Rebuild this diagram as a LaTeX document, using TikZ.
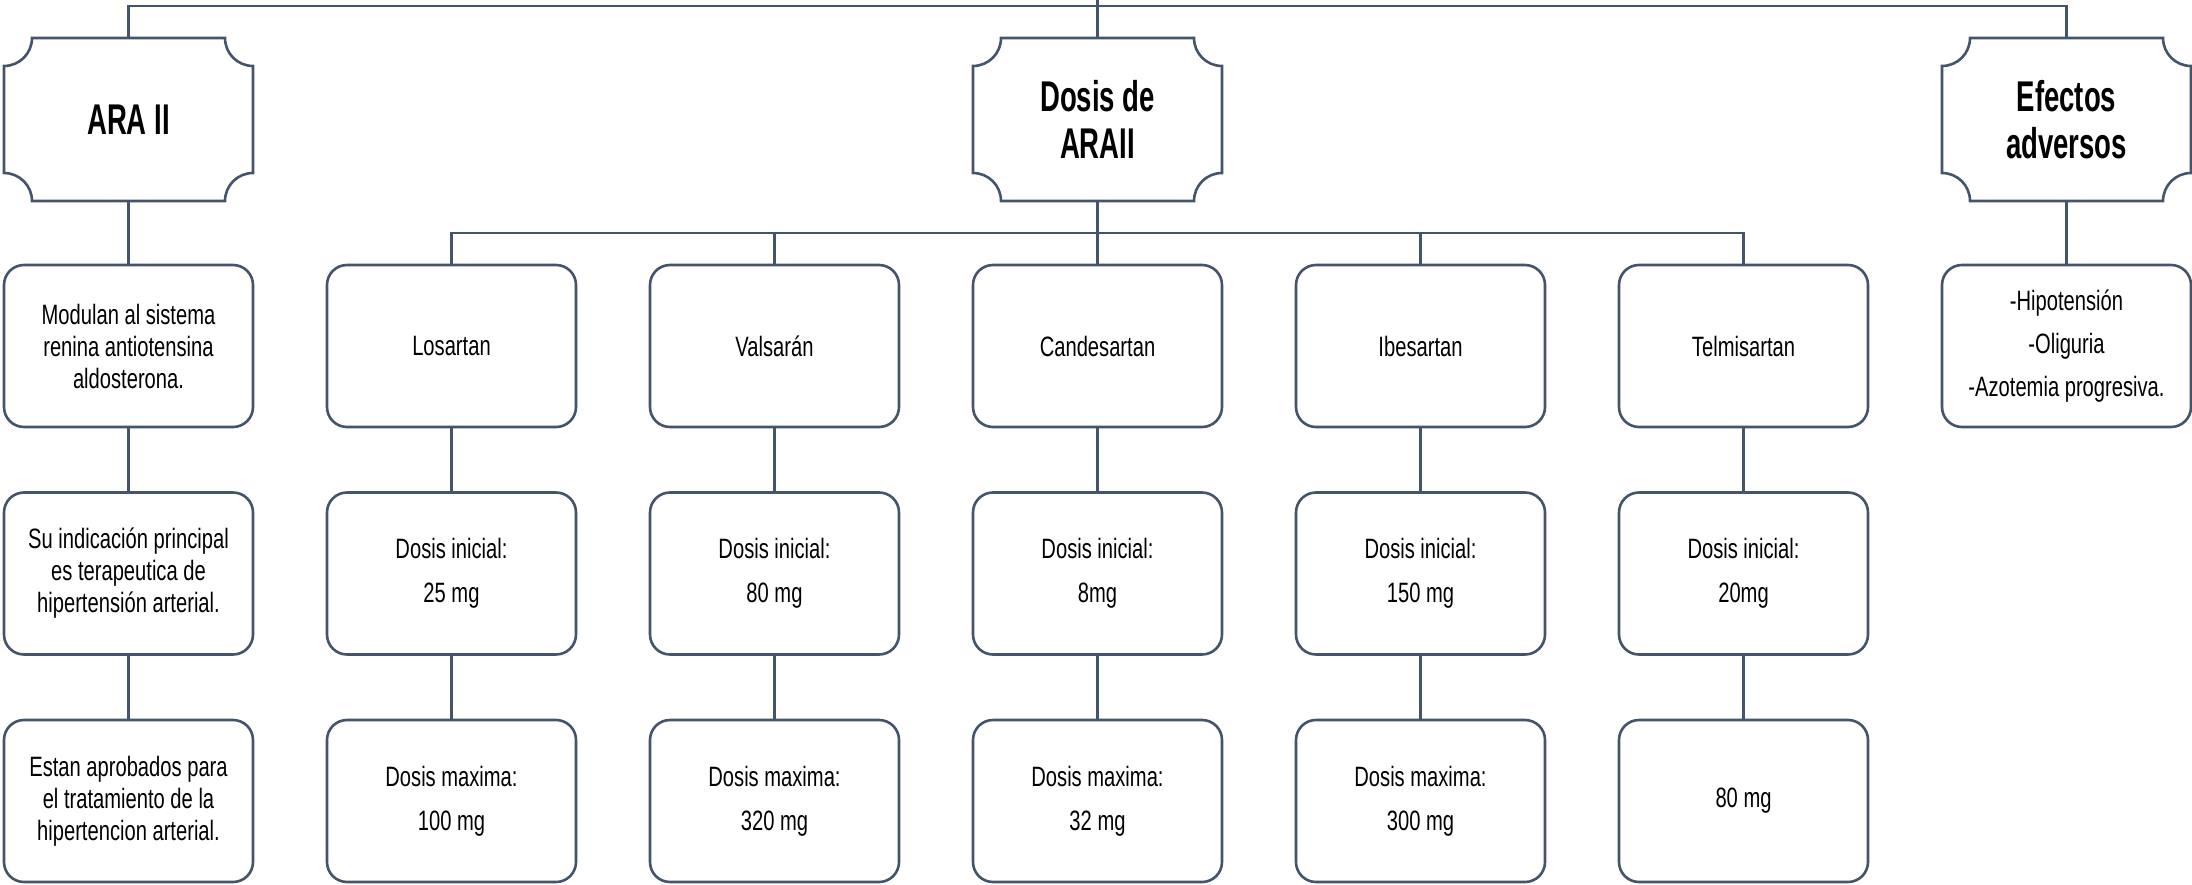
\documentclass[tikz,border=0pt]{standalone}
\usepackage{fontspec}
\setmainfont{Liberation Sans}[FakeStretch=0.72]
\newfontfamily\hdfont{Liberation Sans}[FakeStretch=0.64]
\usetikzlibrary{calc}
\definecolor{lc}{HTML}{44546A}
\tikzset{
  edge/.style={draw=lc, line width=2.6pt, line join=miter},
  rbox/.style={draw=lc, line width=2.6pt, rounded corners=20pt, minimum width=249pt,
    minimum height=162pt, align=center, inner sep=0pt, outer sep=0pt, fill=white,
    font=\fontsize{28}{32}\selectfont},
  hbox/.style={minimum width=249pt, minimum height=163pt, align=center, inner sep=0pt,
    outer sep=0pt, font=\hdfont\bfseries\fontsize{43}{47}\selectfont},
}
\newcommand\plaquedraw[1]{%
  \draw[edge] ($(#1.north west)+(28pt,0)$) -- ($(#1.north east)+(-28pt,0)$)
    arc[start angle=180,end angle=270,radius=28pt]
    -- ($(#1.south east)+(0,28pt)$)
    arc[start angle=90,end angle=180,radius=28pt]
    -- ($(#1.south west)+(28pt,0)$)
    arc[start angle=0,end angle=90,radius=28pt]
    -- ($(#1.north west)+(0,-28pt)$)
    arc[start angle=270,end angle=360,radius=28pt] -- cycle;}
\begin{document}
\begin{tikzpicture}[x=1pt,y=1pt]
\useasboundingbox[fill=white] (0,0) rectangle (2192,-885);
% headers
\node[hbox] (ara) at (128.5,-119.5) {ARA II};
\node[hbox] (dos) at (1097.5,-119.5) {Dosis de\\ARAII};
\node[hbox] (efe) at (2066.5,-119.5) {Efectos\\adversos};
\plaquedraw{ara}
\plaquedraw{dos}
\plaquedraw{efe}
% column 1
\node[rbox] (b11) at (128.5,-346) {Modulan al sistema\\renina antiotensina\\aldosterona.};
\node[rbox] (b12) at (128.5,-573.5) {Su indicación principal\\es terapeutica de\\hipertensión arterial.};
\node[rbox] (b13) at (128.5,-801) {Estan aprobados para\\el tratamiento de la\\hipertencion arterial.};
% row 1 drugs
\node[rbox] (b21) at (451.5,-346) {Losartan};
\node[rbox] (b31) at (774.5,-346) {Valsarán};
\node[rbox] (b41) at (1097.5,-346) {Candesartan};
\node[rbox] (b51) at (1420.5,-346) {Ibesartan};
\node[rbox] (b61) at (1743.5,-346) {Telmisartan};
% row 2
\node[rbox] (b22) at (451.5,-573.5) {Dosis inicial:\\[12pt]25 mg};
\node[rbox] (b32) at (774.5,-573.5) {Dosis inicial:\\[12pt]80 mg};
\node[rbox] (b42) at (1097.5,-573.5) {Dosis inicial:\\[12pt]8mg};
\node[rbox] (b52) at (1420.5,-573.5) {Dosis inicial:\\[12pt]150 mg};
\node[rbox] (b62) at (1743.5,-573.5) {Dosis inicial:\\[12pt]20mg};
% row 3
\node[rbox] (b23) at (451.5,-801) {Dosis maxima:\\[12pt]100 mg};
\node[rbox] (b33) at (774.5,-801) {Dosis maxima:\\[12pt]320 mg};
\node[rbox] (b43) at (1097.5,-801) {Dosis maxima:\\[12pt]32 mg};
\node[rbox] (b53) at (1420.5,-801) {Dosis maxima:\\[12pt]300 mg};
\node[rbox] (b63) at (1743.5,-801) {80 mg};
% effects
\node[rbox] (b71) at (2066.5,-346) {-Hipotensión\\[11pt]-Oliguria\\[11pt]-Azotemia progresiva.};
% connectors
\coordinate (top) at (0,-6);
\coordinate (edge0) at (0,0);
\coordinate (bar) at (0,-233);
\draw[edge] (ara.north) -- (ara.north |- top) -- (efe.north |- top) -- (efe.north);
\draw[edge] (dos.north) -- (dos.north |- edge0);
\draw[edge] (b21.north) -- (b21.north |- bar) -- (b61.north |- bar) -- (b61.north);
\draw[edge] (dos.south) -- (b41.north);
\draw[edge] (b31.north) -- (b31.north |- bar);
\draw[edge] (b51.north) -- (b51.north |- bar);
\draw[edge] (ara.south) -- (b11.north);
\draw[edge] (efe.south) -- (b71.north);
\foreach \c in {1,...,6}{
  \draw[edge] (b\c1.south) -- (b\c2.north);
}
\foreach \c in {1,...,6}{
  \draw[edge] (b\c2.south) -- (b\c3.north);
}
\end{tikzpicture}
\end{document}
